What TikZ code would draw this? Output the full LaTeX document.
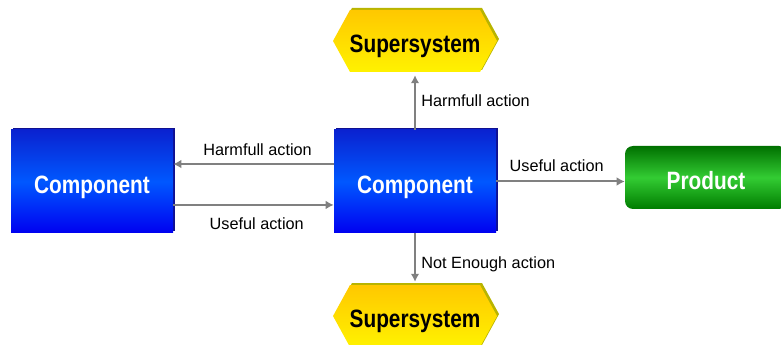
\documentclass[tikz,border=0pt]{standalone}
\usepackage{fontspec}
\setmainfont{Liberation Sans}
\newfontfamily\boxfont{Liberation Sans}[FakeStretch=0.83]
\usetikzlibrary{positioning,shadows,arrows.meta}

\definecolor{blueTop}{HTML}{0A22D0}
\definecolor{blueMid}{HTML}{0058FF}
\definecolor{blueBot}{HTML}{0000F0}
\definecolor{blueEdge}{HTML}{101090}
\definecolor{yelTop}{HTML}{FFC800}
\definecolor{yelBot}{HTML}{FFF200}
\definecolor{yelEdge}{HTML}{B8B400}
\definecolor{grnTop}{HTML}{007000}
\definecolor{grnMid}{HTML}{33CC33}
\definecolor{grnBot}{HTML}{007C00}
\definecolor{arrowGray}{HTML}{808080}

\begin{document}
\begin{tikzpicture}[x=0.75pt, y=-0.75pt,
    box text/.style={font=\boxfont\bfseries\fontsize{18.8}{22}\selectfont, text height=17.3pt, text depth=0pt},
    comp node/.style={rectangle, minimum width=121.5pt, minimum height=77.25pt, inner sep=0pt,
      top color=blueTop, bottom color=blueBot, middle color=blueMid, text=white, box text,
      general shadow={fill=blueEdge, shadow xshift=1.5pt, shadow yshift=1.5pt}},
    super node/.style={rectangle, minimum width=127pt, minimum height=51pt, inner sep=0pt, box text,
      path picture={
        \fill[yelEdge] ([xshift=-60pt, yshift=1.5pt]path picture bounding box.center)
          -- ++(12.75pt,23.25pt) -- ++(97.5pt,0pt) -- ++(12.75pt,-23.25pt)
          -- ++(-12.75pt,-23.25pt) -- ++(-97.5pt,0pt) -- cycle;
        \shade[top color=yelTop, bottom color=yelBot] ([xshift=-61.5pt]path picture bounding box.center)
          -- ++(12.75pt,23.25pt) -- ++(97.5pt,0pt) -- ++(12.75pt,-23.25pt)
          -- ++(-12.75pt,-23.25pt) -- ++(-97.5pt,0pt) -- cycle;}},
    prod node/.style={rectangle, rounded corners=6pt, minimum width=121.5pt, minimum height=47.25pt,
      inner sep=0pt, top color=grnTop, bottom color=grnBot, middle color=grnMid, text=white, box text},
    flow/.style={draw=arrowGray, line width=1.5pt, -{Latex[length=6pt,width=6.5pt]}},
    lbl/.style={font=\fontsize{12.2}{14}\selectfont, inner sep=0pt}]

  \useasboundingbox (0,0) rectangle (781,345);

  \node[comp node] (cc) at (415,181.5) {Component};
  \node[comp node] (lc) [left of=cc, node distance=242.25pt] {Component};
  \node[super node] (top) [above of=cc, node distance=105.4pt] {Supersystem};
  \node[super node] (bot) [below of=cc, node distance=100.9pt] {Supersystem};
  \node[prod node] (prod) [right of=cc, node distance=218.25pt, yshift=3pt] {Product};

  \path[every edge/.style={flow}, every node/.style={lbl}]
    ([yshift=13.1pt]cc.west) edge node[above=5.5pt, pos=0.475] {Harmfull action} ([yshift=13.1pt]lc.east)
    ([yshift=-17.6pt]lc.east) edge node[below=9pt, pos=0.52] {Useful action} ([yshift=-17.6pt]cc.west)
    (cc.east) edge node[above=7pt, pos=0.47] {Useful action} (cc.east -| prod.west)
    (cc.north) edge node[right=4pt, pos=0.53] {Harmfull action} (top.south)
    (cc.south) edge node[right=4pt, pos=0.64] {Not Enough action} (bot.north);
\end{tikzpicture}
\end{document}
